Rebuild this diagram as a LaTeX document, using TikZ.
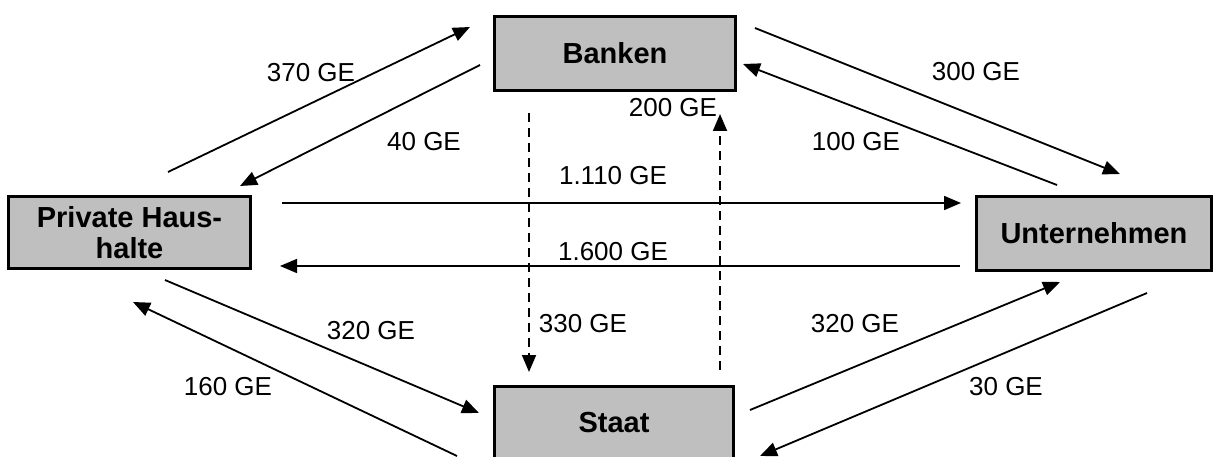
\documentclass[tikz,border=0pt]{standalone}
\usepackage{fontspec}
\setmainfont{Liberation Sans}
\usetikzlibrary{arrows.meta}
\definecolor{boxgray}{RGB}{191,191,191}
\tikzset{
  sector/.style={draw=black, line width=3pt, fill=boxgray, inner sep=0pt,
    font=\fontsize{29}{31}\selectfont\bfseries, align=center},
  flow/.style={line width=1.8pt, -{Triangle[length=17pt,width=14pt]}},
  dflow/.style={flow, dash pattern=on 9pt off 6pt},
  lbl/.style={font=\fontsize{26}{30}\selectfont, inner sep=0pt}
}
\begin{document}
\begin{tikzpicture}[x=1pt,y=-1pt]
\useasboundingbox (0,0) rectangle (1216,457);
% sectors
\node[sector, minimum width=241pt, minimum height=74pt] (bank) at (615,53.5) {Banken};
\node[sector, minimum width=242pt, minimum height=72pt] (ph) at (129.5,232.5) {Private Haus-\\halte};
\node[sector, minimum width=235pt, minimum height=74pt] (unt) at (1094,233.5) {Unternehmen};
\node[sector, minimum width=239pt, minimum height=72pt] (staat) at (614,422.5) {Staat};
% end points
\coordinate (a1s) at (168,172);  \coordinate (a1e) at (470,27);
\coordinate (a2s) at (480,65);   \coordinate (a2e) at (240,186);
\coordinate (a3s) at (755,28);   \coordinate (a3e) at (1120,174);
\coordinate (a4s) at (1057,185); \coordinate (a4e) at (743,64);
\coordinate (a5s) at (282,203);  \coordinate (a5e) at (961,203);
\coordinate (a6s) at (960,266);  \coordinate (a6e) at (280,266);
\coordinate (a7s) at (529,113);  \coordinate (a7e) at (529,372);
\coordinate (a8s) at (720,370);  \coordinate (a8e) at (720,114);
\coordinate (a9s) at (165,280);  \coordinate (a9e) at (479,413);
\coordinate (a10s) at (457,456); \coordinate (a10e) at (133,302);
\coordinate (a11s) at (750,410); \coordinate (a11e) at (1060,282);
\coordinate (a12s) at (1147,293);\coordinate (a12e) at (760,456);
% flows
\draw[flow] (a1s) -- (a1e);
\draw[flow] (a2s) -- (a2e);
\draw[flow] (a3s) -- (a3e);
\draw[flow] (a4s) -- (a4e);
\draw[flow] (a5s) -- (a5e);
\draw[flow] (a6s) -- (a6e);
\draw[dflow] (a7s) -- (a7e);
\draw[dflow] (a8s) -- (a8e);
\draw[flow] (a9s) -- (a9e);
\draw[flow] (a10s) -- (a10e);
\draw[flow] (a11s) -- (a11e);
\draw[flow] (a12s) -- (a12e);
% labels
\node[lbl] (l1) at (311,73) {370 GE};
\node[lbl] (l2) at (424,142) {40 GE};
\node[lbl] (l3) at (976,72) {300 GE};
\node[lbl] (l4) at (856,142) {100 GE};
\node[lbl] (l5) at (613,176) {1.110 GE};
\node[lbl] (l6) at (613,252) {1.600 GE};
\node[lbl] (l7) at (583,324) {330 GE};
\node[lbl] (l8) at (673,108) {200 GE};
\node[lbl] (l9) at (371,331) {320 GE};
\node[lbl] (l10) at (228,387) {160 GE};
\node[lbl] (l11) at (855,324) {320 GE};
\node[lbl] (l12) at (1006,387) {30 GE};
\end{tikzpicture}
\end{document}
